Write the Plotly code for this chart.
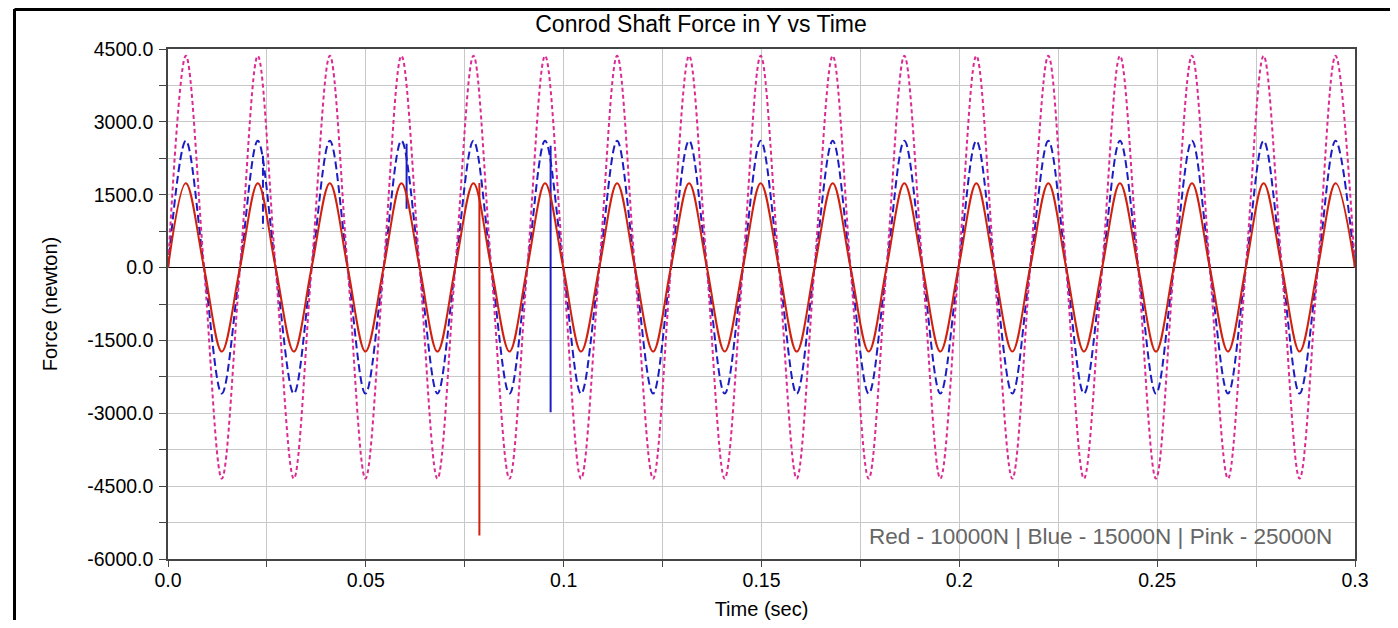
import plotly.graph_objects as go

# Sample times (sec) at zero crossings, peaks and troughs
time_s = [0.0, 0.0045, 0.0091, 0.0136, 0.0182, 0.0227, 0.0272, 0.0318, 0.0363, 0.0409,
          0.0454, 0.0499, 0.0545, 0.0590, 0.0636, 0.0681, 0.0726, 0.0772, 0.0817, 0.0863,
          0.0908, 0.0953, 0.0999, 0.1044, 0.1090, 0.1135, 0.1180, 0.1226, 0.1271, 0.1317,
          0.1362, 0.1407, 0.1453, 0.1498, 0.1544, 0.1589, 0.1634, 0.1680, 0.1725, 0.1771,
          0.1816, 0.1861, 0.1907, 0.1952, 0.1998, 0.2043, 0.2088, 0.2134, 0.2179, 0.2225,
          0.2270, 0.2315, 0.2361, 0.2406, 0.2452, 0.2497, 0.2542, 0.2588, 0.2633, 0.2679,
          0.2724, 0.2769, 0.2815, 0.2860, 0.2906, 0.2951, 0.3000]

red_force = [0, 1735, 0, -1730, 0, 1735, 0, -1730, 0, 1735,
             0, -1730, 0, 1735, 0, -1730, 0, 1735, 0, -1730,
             0, 1735, 0, -1730, 0, 1735, 0, -1730, 0, 1735,
             0, -1730, 0, 1735, 0, -1730, 0, 1735, 0, -1730,
             0, 1735, 0, -1730, 0, 1735, 0, -1730, 0, 1735,
             0, -1730, 0, 1735, 0, -1730, 0, 1735, 0, -1730,
             0, 1735, 0, -1730, 0, 1735, 0]

blue_force = [0, 2610, 0, -2595, 0, 2610, 0, -2595, 0, 2610,
              0, -2595, 0, 2610, 0, -2595, 0, 2610, 0, -2595,
              0, 2610, 0, -2595, 0, 2610, 0, -2595, 0, 2610,
              0, -2595, 0, 2610, 0, -2595, 0, 2610, 0, -2595,
              0, 2610, 0, -2595, 0, 2610, 0, -2595, 0, 2610,
              0, -2595, 0, 2610, 0, -2595, 0, 2610, 0, -2595,
              0, 2610, 0, -2595, 0, 2610, 0]

pink_force = [0, 4360, 0, -4345, 0, 4360, 0, -4345, 0, 4360,
              0, -4345, 0, 4360, 0, -4345, 0, 4360, 0, -4345,
              0, 4360, 0, -4345, 0, 4360, 0, -4345, 0, 4360,
              0, -4345, 0, 4360, 0, -4345, 0, 4360, 0, -4345,
              0, 4360, 0, -4345, 0, 4360, 0, -4345, 0, 4360,
              0, -4345, 0, 4360, 0, -4345, 0, 4360, 0, -4345,
              0, 4360, 0, -4345, 0, 4360, 0]

# Spikes (glitches) seen in the chart
red_spike_t = [0.0787, 0.0787]
red_spike_f = [1740, -5515]
blue_spike1_t = [0.0240, 0.0240]
blue_spike1_f = [2300, 800]
blue_spike2_t = [0.0603, 0.0603]
blue_spike2_f = [2550, 1210]
blue_spike3_t = [0.0967, 0.0967]
blue_spike3_f = [2510, -2980]

y_tick_vals = [-6000, -5250, -4500, -3750, -3000, -2250, -1500, -750, 0, 750,
               1500, 2250, 3000, 3750, 4500]
y_tick_text = ["-6000.0", "", "-4500.0", "", "-3000.0", "", "-1500.0", "", "0.0", "",
               "1500.0", "", "3000.0", "", "4500.0"]
x_tick_vals = [0, 0.025, 0.05, 0.075, 0.1, 0.125, 0.15, 0.175, 0.2, 0.225, 0.25, 0.275, 0.3]
x_tick_text = ["0.0", "", "0.05", "", "0.1", "", "0.15", "", "0.2", "", "0.25", "", "0.3"]

RED = "#d0210f"
BLUE = "#1c1cc4"
PINK = "#dc2a93"

fig = go.Figure()
fig.add_trace(go.Scatter(x=time_s, y=blue_force, mode="lines", line_shape="spline",
                         line=dict(color=BLUE, width=2, dash="8px,4px"), name="Blue"))
fig.add_trace(go.Scatter(x=time_s, y=pink_force, mode="lines", line_shape="spline",
                         line=dict(color=PINK, width=2, dash="4px,3px"), name="Pink"))
fig.add_trace(go.Scatter(x=blue_spike1_t, y=blue_spike1_f, mode="lines",
                         line=dict(color=BLUE, width=2, dash="8px,4px")))
for tx, fy in [(blue_spike2_t, blue_spike2_f), (blue_spike3_t, blue_spike3_f)]:
    fig.add_trace(go.Scatter(x=tx, y=fy, mode="lines", line=dict(color=BLUE, width=2)))
fig.add_trace(go.Scatter(x=time_s, y=red_force, mode="lines", line_shape="spline",
                         line=dict(color=RED, width=2), name="Red"))
fig.add_trace(go.Scatter(x=red_spike_t, y=red_spike_f, mode="lines",
                         line=dict(color=RED, width=2)))

# The page body has an 8px margin, so the figure is placed 8px right/down.
OFF = 8
W, H = 1398 - 2 * OFF, 628 - 2 * OFF
L, R, T, B = 168 - OFF, 1355 - OFF, 49 - OFF, 559 - OFF


def px(xp):
    return (xp - OFF - L) / (R - L)


def py(yp):
    return (B - (yp - OFF)) / (B - T)


fig.update_layout(
    width=W, height=H,
    margin=dict(l=L, r=W - R, t=T, b=H - B, pad=0, autoexpand=False),
    paper_bgcolor="white", plot_bgcolor="white",
    showlegend=False,
    font=dict(family="Liberation Sans, Arial, sans-serif", color="#000000", size=19),
    title=dict(text="Conrod Shaft Force in Y vs Time", x=(701 - OFF) / W, xanchor="center",
               y=1 - (24 - OFF) / H, yanchor="middle", font=dict(size=23, color="#000000")),
    xaxis=dict(range=[0, 0.3], tickvals=x_tick_vals, ticktext=x_tick_text,
               showgrid=True, gridcolor="#c8c8c8", gridwidth=1,
               ticks="outside", ticklen=6, tickcolor="#444",
               showline=True, linecolor="#444", linewidth=1.5, mirror=True,
               zeroline=False, ticklabelstandoff=-3, automargin=False,
               title=dict(text="Time (sec)", font=dict(size=20), standoff=13),
               tickfont=dict(size=19.5)),
    yaxis=dict(range=[-6000, 4500], tickvals=y_tick_vals, ticktext=y_tick_text,
               showgrid=True, gridcolor="#c8c8c8", gridwidth=1,
               ticks="outside", ticklen=7, tickcolor="#444",
               showline=True, linecolor="#444", linewidth=1.5, mirror=True,
               zeroline=True, zerolinecolor="#000000", zerolinewidth=1,
               ticklabelstandoff=2, automargin=False,
               title=dict(text="Force (newton)", font=dict(size=20), standoff=24),
               tickfont=dict(size=19.5)),
    annotations=[dict(text="Red - 10000N | Blue - 15000N | Pink - 25000N",
                      xref="paper", yref="paper", x=px(1334), y=py(536),
                      xanchor="right", yanchor="middle", showarrow=False,
                      font=dict(size=22.5, color="#666666"))],
    shapes=[
        dict(type="line", xref="paper", yref="paper", x0=px(14.5), x1=px(14.5),
             y0=py(9), y1=py(628), line=dict(color="#000000", width=3)),
        dict(type="line", xref="paper", yref="paper", x0=px(14.5), x1=px(1398),
             y0=py(9.5), y1=py(9.5), line=dict(color="#000000", width=3)),
    ],
)

fig.write_html("out.html")
